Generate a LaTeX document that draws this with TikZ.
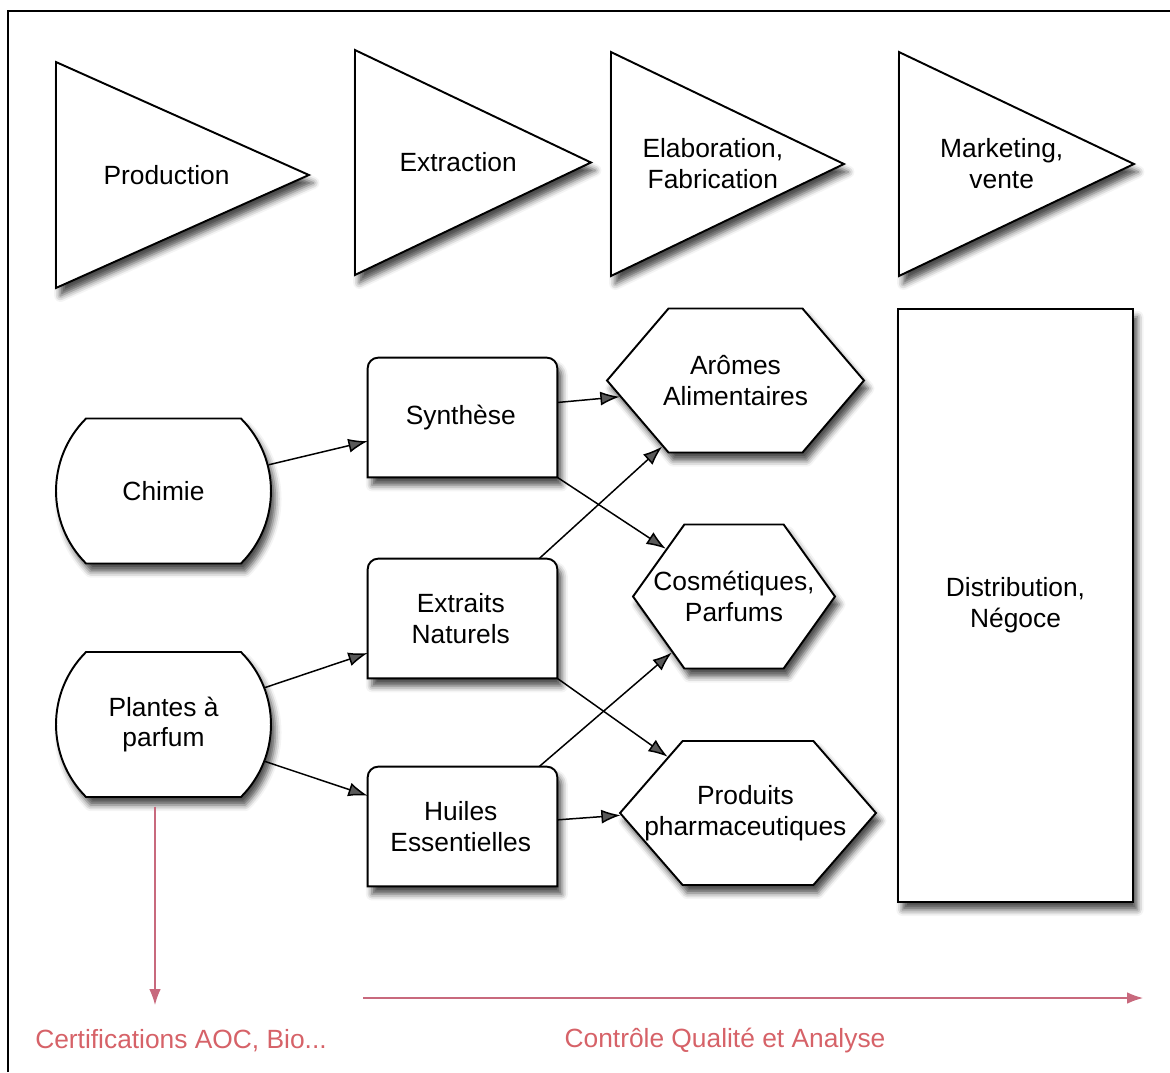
\documentclass[tikz,border=0pt]{standalone}
\usepackage{fontspec}
\setmainfont{Liberation Sans}
\usetikzlibrary{shapes.geometric,shapes.misc,shapes.symbols,shadows.blur,arrows.meta,calc}
\definecolor{qualred}{RGB}{214,98,104}
\definecolor{qualline}{RGB}{200,105,125}

\begin{document}
\begin{tikzpicture}[x=0.02cm, y=-0.02cm,
        every node/.style={font=\fontsize{15}{17.6}\selectfont, align=center, inner sep=0pt},
        boxshadow/.style={blur shadow={shadow xshift=2.5pt, shadow yshift=-4.5pt, shadow blur radius=3.5pt, shadow opacity=70}},
        outline/.style={draw, line width=1.1pt, fill=white, boxshadow},
        phase/.style={isosceles triangle, isosceles triangle stretches, outline, anchor=lower side},
        source/.style={rounded rectangle, rounded rectangle arc length=90, outline, minimum width=4.3cm, minimum height=2.9cm},
        proc/.style={rectangle, minimum width=3.78cm, minimum height=2.38cm},
        product/.style={signal, signal to=west and east, outline, minimum height=2.88cm},
        flow/.style={-{Latex[length=11pt, width=8pt]}, line width=0.85pt},
        qual/.style={-{Latex[length=9pt, width=6.5pt]}, line width=0.7pt, draw=qualline}]
    \useasboundingbox (0,0) rectangle (1170,1072);
    \draw[line width=0.8pt] (8,1072) -- (8,11) -- (1170,11);

    % phases
    \node[phase, minimum height=5.06cm, minimum width=4.52cm] (prod) at (55,175) {};
    \node[phase, minimum height=4.72cm, minimum width=4.5cm] (extr) at (354,162.5) {};
    \node[phase, minimum height=4.66cm, minimum width=4.48cm] (elab) at (610,164) {};
    \node[phase, minimum height=4.7cm, minimum width=4.48cm] (mark) at (898,164) {};
    \node (prod-t) at ($(prod.lower side)!0.435!(prod.apex)$) {Production};
    \node (extr-t) at ($(extr.lower side)!0.435!(extr.apex)$) {Extraction};
    \node (elab-t) at ($(elab.lower side)!0.435!(elab.apex)$) {Elaboration,\\Fabrication};
    \node (mark-t) at ($(mark.lower side)!0.435!(mark.apex)$) {Marketing,\\vente};

    % sources
    \node[source] (chim) at (163.5,491) {Chimie};
    \node[source] (plan) at (163.5,724.5) {Plantes à\\parfum};

    % procedes
    \node[proc] (syn) at (462.5,417.5) {};
    \node[proc] (ext) at (462.5,618.5) {};
    \node[proc] (hui) at (462.5,826.5) {};
    \foreach \n in {syn,ext,hui}
        \draw[outline] (\n.south west) -- ([yshift=-6pt]\n.north west)
            arc[start angle=180, end angle=90, radius=6pt] -- ([xshift=-6pt]\n.north east)
            arc[start angle=90, end angle=0, radius=6pt] -- (\n.south east) -- cycle;
    \node (syn-t) at ([xshift=-1pt]syn) {Synthèse};
    \node (ext-t) at ([xshift=-1pt]ext) {Extraits\\Naturels};
    \node (hui-t) at ([xshift=-1pt]hui) {Huiles\\Essentielles};

    % produits
    \node[product, minimum width=5.14cm, signal pointer angle=99] (arom) at (735.5,380.5) {};
    \node[product, minimum width=4.04cm, signal pointer angle=109] (cosm) at (734,596.5) {};
    \node[product, minimum width=5.12cm, signal pointer angle=98] (phar) at (748,813) {};
    \node (arom-t) at (arom) {Arômes\\Alimentaires};
    \node (cosm-t) at (cosm) {Cosmétiques,\\Parfums};
    \node (phar-t) at ([xshift=-1.5pt]phar) {Produits\\pharmaceutiques};

    \node[rectangle, outline, minimum width=4.7cm, minimum height=11.86cm] (dist) at (1015.5,605.5) {Distribution,\\Négoce};

    % flux
    \draw[flow] (chim.14) -- (syn.194);
    \draw[flow] (plan.20) -- (ext.200);
    \draw[flow] (plan.340) -- (hui.162);
    \draw[flow] (syn.9) -- (arom.188);
    \draw[flow] (syn.south east) -- (cosm.145);
    \draw[flow] (ext.38) -- (arom.222);
    \draw[flow] (ext.south east) -- (phar.145);
    \draw[flow] (hui.38) -- (cosm.222);
    \draw[flow] (hui.4) -- (phar.181);

    % qualite
    \node[text=qualred] (cert) at (181,1041) {Certifications AOC, Bio...};
    \node[text=qualred] (ctrl) at (725,1041) {Contrôle Qualité et Analyse};
    \coordinate (certend) at (155,1005);
    \coordinate (ctrlstart) at (363,998);
    \coordinate (ctrlend) at (1143,998);
    \draw[qual] (plan.south -| certend) ++(0,-5pt) -- (certend);
    \draw[qual] (ctrlstart) -- (ctrlend);
\end{tikzpicture}
\end{document}
